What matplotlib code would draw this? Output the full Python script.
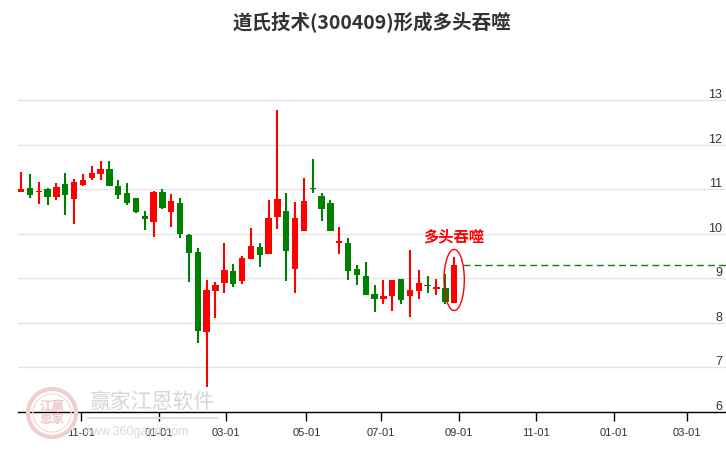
import numpy as np
import matplotlib
matplotlib.use("Agg")
import matplotlib.pyplot as plt
import matplotlib.transforms as mtransforms
from matplotlib.patches import Ellipse

# weekly candles
opens = [10.94, 11.03, 10.94, 11.00, 10.83, 11.12, 10.79, 11.09, 11.26, 11.34,
         11.45, 11.07, 10.91, 10.80, 10.40, 10.27, 10.94, 10.49, 10.69, 9.96,
         9.59, 7.80, 8.72, 8.90, 9.16, 8.94, 9.44, 9.70, 9.55, 10.38,
         10.51, 9.21, 10.07, 11.03, 10.85, 10.69, 9.80, 9.79, 9.21, 9.05,
         8.65, 8.53, 8.59, 8.98, 8.59, 8.72, 8.84, 8.75, 8.78, 8.44]
closes = [11.00, 10.88, 10.96, 10.83, 11.05, 10.86, 11.16, 11.21, 11.36, 11.45,
          11.08, 10.88, 10.70, 10.49, 10.34, 10.94, 10.58, 10.73, 9.99, 9.56,
          7.82, 8.73, 8.84, 9.18, 8.88, 9.45, 9.73, 9.53, 10.35, 10.78,
          9.62, 10.35, 10.73, 11.01, 10.56, 10.07, 9.82, 9.17, 9.08, 8.63,
          8.54, 8.60, 8.96, 8.50, 8.73, 8.89, 8.82, 8.81, 8.47, 9.30]
highs = [11.39, 11.34, 11.16, 11.02, 11.14, 11.36, 11.23, 11.34, 11.52, 11.63,
         11.63, 11.21, 11.14, 10.80, 10.50, 10.96, 11.00, 10.89, 10.80, 9.99,
         9.67, 8.96, 8.91, 9.79, 9.33, 9.51, 10.13, 9.78, 10.76, 12.78,
         10.91, 10.71, 11.25, 11.68, 10.92, 10.76, 10.15, 9.90, 9.30, 9.36,
         8.85, 8.96, 8.97, 8.98, 9.64, 9.18, 9.05, 8.98, 9.09, 9.48]
lows = [10.94, 10.81, 10.67, 10.65, 10.76, 10.43, 10.22, 11.08, 11.21, 11.21,
        11.08, 10.79, 10.65, 10.47, 10.09, 9.93, 10.56, 10.16, 9.91, 8.92,
        7.54, 6.56, 8.11, 8.67, 8.81, 8.88, 9.44, 9.26, 9.55, 10.11,
        8.94, 8.66, 10.07, 10.91, 10.29, 10.05, 9.55, 8.97, 8.85, 8.63,
        8.24, 8.42, 8.27, 8.41, 8.13, 8.53, 8.66, 8.62, 8.42, 8.44]

tick_pos = [6.81, 15.59, 23.2, 32.28, 40.69, 49.5, 58.28, 67.05, 75.35]
tick_labels = ["11-01", "01-01", "03-01", "05-01", "07-01", "09-01", "11-01", "01-01", "03-01"]
y_ticks = [6, 7, 8, 9, 10, 11, 12, 13]

title = "道氏技术(300409)形成多头吞噬"
signal_text = "多头吞噬"

plt.rcParams['font.family'] = ['Noto Sans CJK SC', 'DejaVu Sans']

fig = plt.figure(figsize=(7.26, 4.5), dpi=100)
ax = fig.add_axes([18 / 726, 38.3 / 450, 708 / 726, 356 / 450])

# watermark (stamp + name)
fig.patches.append(Ellipse((52 / 726, 1 - 413 / 450), 48 / 726, 48 / 450,
                           transform=fig.transFigure, fill=False, ec='#f2cfcf', lw=3, zorder=0))
fig.patches.append(Ellipse((52 / 726, 1 - 413 / 450), 38 / 726, 38 / 450,
                           transform=fig.transFigure, fill=False, ec='#f6dddd', lw=1, zorder=0))
fig.text(52 / 726, 1 - 413 / 450, "江赢\n恩家", ha='center', va='center', fontsize=9,
         color='#f0c4c4', weight='bold', linespacing=1.0, zorder=0)
fig.text(152 / 726, 1 - 402 / 450, "赢家江恩软件", ha='center', va='center', fontsize=15,
         color='#d6d6d6', zorder=0)
fig.lines.append(plt.Line2D([88 / 726, 217 / 726], [1 - 418 / 450, 1 - 418 / 450],
                            transform=fig.transFigure, color='#e0e0e0', lw=1.5, zorder=0))
fig.text(136 / 726, 1 - 432 / 450, "www.360gann.com", ha='center', va='center', fontsize=9,
         color='#d9d9d9', family='Liberation Sans', zorder=0)

x = np.arange(len(opens))
o = np.array(opens)
c = np.array(closes)
colors = np.where(c >= o, '#ff0000', '#008000')

ax.vlines(x, lows, highs, colors=colors, lw=1.5, zorder=2)
body = np.maximum(np.abs(c - o), 0.03)
bottom = np.minimum(o, c) - (body - np.abs(c - o)) / 2
ax.bar(x, body, bottom=bottom, width=0.72, color=colors, zorder=3)

ax.set_xlim(-0.34, 79.75)
ax.set_ylim(6, 14)

ax.set_yticks(y_ticks)
ax.yaxis.grid(True, color='#e4e4e4', lw=1)
ax.set_axisbelow(True)
ax.tick_params(axis='y', length=0, labelleft=False)
trans = mtransforms.blended_transform_factory(ax.transAxes, ax.transData)
for v in y_ticks:
    ax.text(0.9945, v + 0.04, str(v), transform=trans, ha='right', va='baseline',
            fontsize=9, family='Liberation Sans', color='#333333')

ax.set_xticks(tick_pos)
ax.set_xticklabels(tick_labels, family='Liberation Sans', fontsize=8, color='#333333')
ax.tick_params(axis='x', direction='out', length=6.5, width=1, color='black', pad=5.5)

for s in ['top', 'left', 'right']:
    ax.spines[s].set_visible(False)
ax.spines['bottom'].set_color('black')
ax.spines['bottom'].set_linewidth(1)
ax.patch.set_alpha(0)

# signal marker
last = x[-1]
ax.hlines(closes[-1], last + 1, 79.75, colors='#1b7a1b', lw=1, linestyles=(0, (5, 3)), zorder=2)
ax.add_patch(Ellipse((last, (highs[-1] + lows[-1]) / 2), 2.3, (highs[-1] - lows[-1]) * 1.32,
                     fill=False, ec='#ff0000', lw=1, zorder=4))
ax.text(last, highs[-1] + 0.45, signal_text, ha='center', va='center', fontsize=11,
        weight='bold', color='#ff0000')

fig.text(372 / 726, 1 - 23 / 450, title, ha='center', va='center', fontsize=14,
         weight='bold', color='#333333')

fig.savefig("out.png", dpi=100)
